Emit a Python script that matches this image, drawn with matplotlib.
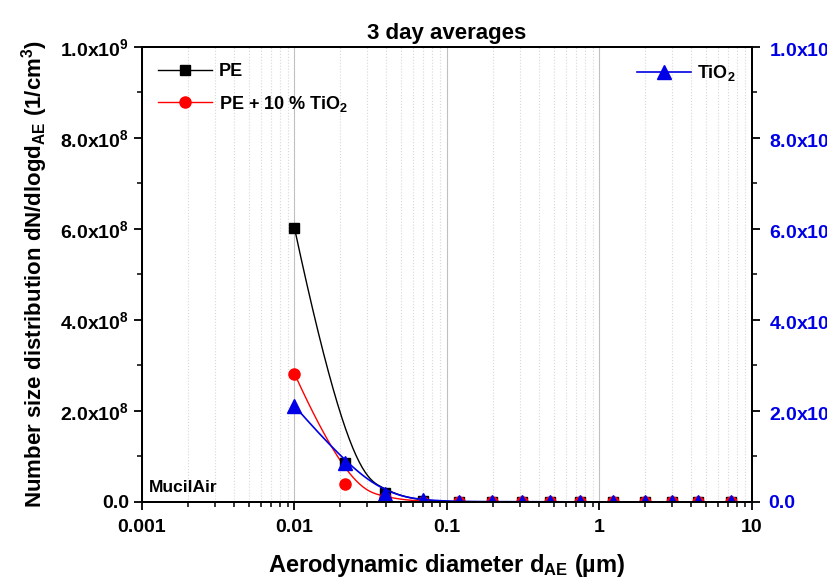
import matplotlib
matplotlib.use('AGG')
import matplotlib.pyplot as plt
from matplotlib.ticker import FixedLocator, LogLocator, NullFormatter, FuncFormatter
import numpy as np

# stage mid diameters (um)
diam = [0.01, 0.0214, 0.039, 0.070, 0.120, 0.196, 0.312, 0.474, 0.745,
        1.22, 2.0, 3.0, 4.45, 7.25]
pe = [6.02e8, 8.5e7, 2.0e7, 2.0e6, 8e5, 5e5, 4e5, 3e5, 3e5, 2e5, 2e5, 2e5, 2e5, 2e5]
pe_tio2 = [2.82e8, 3.9e7, 8e6, 1e6, 5e5, 4e5, 3e5, 3e5, 2e5, 2e5, 2e5, 2e5, 2e5, 2e5]
tio2 = [2.11e6, 8.5e5, 1.75e5, 4e4, 1e4, 8e3, 5e3, 4e3, 3e3, 3e3, 2e3, 2e3, 2e3, 2e3]


def bspline(x, y, k=3, n=500):
    # clamped B-spline through the end points, evaluated in log-x
    cx = np.log10(np.asarray(x, float))
    cy = np.asarray(y, float)
    m = len(cx)
    t = np.concatenate([np.zeros(k), np.linspace(0, 1, m - k + 1), np.ones(k)])
    u = np.linspace(0, 1, n)
    N = np.zeros((n, len(t) - 1))
    for i in range(len(t) - 1):
        N[:, i] = (t[i] <= u) & (u < t[i + 1])
    N[u >= 1, m - 1] = 1
    for d in range(1, k + 1):
        newN = np.zeros((n, len(t) - 1 - d))
        for i in range(len(t) - 1 - d):
            a = np.zeros(n)
            b = np.zeros(n)
            if t[i + d] > t[i]:
                a = (u - t[i]) / (t[i + d] - t[i])
            if t[i + d + 1] > t[i + 1]:
                b = (t[i + d + 1] - u) / (t[i + d + 1] - t[i + 1])
            newN[:, i] = a * N[:, i] + b * N[:, i + 1]
        N = newN
    return 10 ** (N @ cx), N @ cy


def sci_fmt(v, pos):
    if v == 0:
        return '0.0'
    e = int(np.floor(np.log10(v) + 1e-9))
    return '%.1fx10$^{%d}$' % (v / 10 ** e, e)


def main():
    plt.rcParams['font.family'] = 'Liberation Sans'
    plt.rcParams['font.weight'] = 'bold'
    plt.rcParams['axes.labelweight'] = 'bold'
    plt.rcParams['axes.titleweight'] = 'bold'
    plt.rcParams['mathtext.fontset'] = 'custom'
    plt.rcParams['mathtext.rm'] = 'Liberation Sans:bold'
    plt.rcParams['mathtext.it'] = 'Liberation Sans:bold'
    plt.rcParams['mathtext.bf'] = 'Liberation Sans:bold'

    fig = plt.figure(figsize=(8.28, 5.78), dpi=100)
    ax = fig.add_axes([0.1715, 0.1315, 0.7367, 0.7872])
    ax2 = ax.twinx()

    ax.set_xscale('log')
    ax.set_xlim(0.001, 10)
    ax.set_ylim(0, 1e9)
    ax2.set_ylim(0, 1e7)

    ax.grid(True, which='minor', axis='x', color='#d8d8d8', linestyle=':', linewidth=0.8)
    ax.grid(True, which='major', axis='x', color='#c0c0c0', linestyle='-', linewidth=0.8)

    blue = '#0000e6'
    sx, sy = bspline(diam, pe)
    ax.plot(sx, sy, color='black', lw=1)
    sx, sy = bspline(diam, pe_tio2)
    ax.plot(sx, sy, color='red', lw=1)
    ax.plot(diam, pe, 's', color='black', ms=7)
    ax.plot(diam, pe_tio2, 'o', color='red', ms=8)
    sx, sy = bspline(diam, tio2)
    ax2.plot(sx, sy, color=blue, lw=1.2)
    ax2.plot(diam, tio2, '^', color=blue, ms=9.5)

    # legend proxies
    h1, = ax.plot([], [], '-s', color='black', ms=7, lw=1, label='PE')
    h2, = ax.plot([], [], '-o', color='red', ms=8, lw=1, label='PE + 10 % TiO$_2$')
    h3, = ax2.plot([], [], '-^', color=blue, ms=9.5, lw=1.2, label='TiO$_2$')
    ax.legend(handles=[h1, h2], loc='upper left', frameon=False, fontsize=13,
              handlelength=3.0, handletextpad=0.35, borderaxespad=0.5,
              labelspacing=0.75, bbox_to_anchor=(0.0, 1.0))
    ax2.legend(handles=[h3], loc='upper right', frameon=False, fontsize=13,
               handlelength=3.0, handletextpad=0.35, borderaxespad=0.5)

    ax.yaxis.set_major_locator(FixedLocator(np.arange(0, 1.01e9, 2e8)))
    ax.yaxis.set_minor_locator(FixedLocator(np.arange(1e8, 1e9, 2e8)))
    ax.yaxis.set_major_formatter(FuncFormatter(sci_fmt))
    ax2.yaxis.set_major_locator(FixedLocator(np.arange(0, 1.01e7, 2e6)))
    ax2.yaxis.set_minor_locator(FixedLocator(np.arange(1e6, 1e7, 2e6)))
    ax2.yaxis.set_major_formatter(FuncFormatter(sci_fmt))

    ax.xaxis.set_major_locator(LogLocator(base=10))
    ax.xaxis.set_minor_locator(LogLocator(base=10, subs=np.arange(2, 10)))
    ax.xaxis.set_minor_formatter(NullFormatter())
    ax.xaxis.set_major_formatter(FuncFormatter(lambda v, p: '%g' % v))

    for a in (ax, ax2):
        a.tick_params(which='major', direction='out', length=6, width=1.3, labelsize=14)
        a.tick_params(which='minor', direction='out', length=3.5, width=1.1)
        for s in a.spines.values():
            s.set_linewidth(1.4)
    ax.tick_params(axis='x', pad=6)
    ax2.tick_params(axis='y', labelcolor=blue, pad=6)

    ax.set_xlabel('Aerodynamic diameter d$_{\\mathrm{AE}}$ (\u00b5m)', fontsize=17, labelpad=12)
    ax.set_ylabel('Number size distribution dN/dlogd$_{\\mathrm{AE}}$ (1/cm$^3$)', fontsize=16, labelpad=7)
    ax.set_title('3 day averages', fontsize=16, pad=6)
    ax.text(0.012, 0.022, 'MucilAir', transform=ax.transAxes, fontsize=12.5)

    fig.savefig('out.png', dpi=100)


if "__main__" in __name__:
    main()
